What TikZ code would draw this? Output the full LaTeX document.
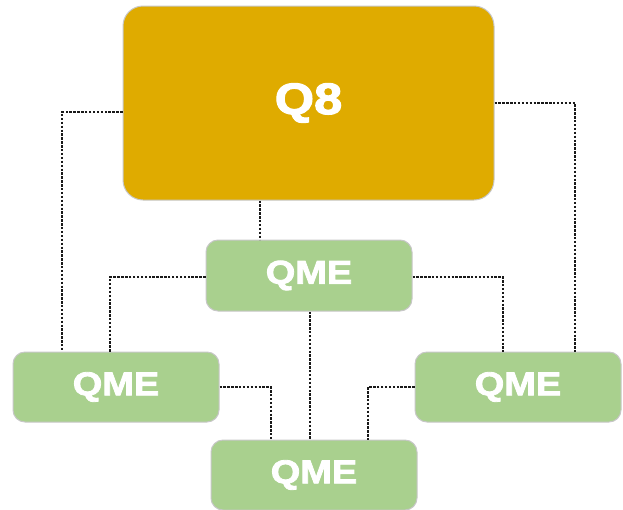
\documentclass[tikz,border=0pt]{standalone}
\usepackage{fontspec}
\setmainfont{Liberation Sans}
\newfontfamily\heavyfont[FakeStretch=1.15, FakeBold=2.5]{Liberation Sans Bold}
\begin{document}
\begin{tikzpicture}[x=1pt,y=-1pt,
  box/.style={rounded corners=12pt, draw=black!22, line width=1pt,
    text=white, font=\heavyfont\fontsize{33}{33}\selectfont,
    minimum width=206pt, minimum height=70pt, inner sep=0pt},
  hub/.style={box, fill=q8gold, rounded corners=20pt,
    minimum width=371pt, minimum height=194pt,
    font=\heavyfont\fontsize{44}{44}\selectfont},
  qme/.style={box, fill=qmegreen},
  conn/.style={draw=black!90, line width=2.2pt, dash pattern=on 2.4pt off 1.5pt}]
\definecolor{q8gold}{HTML}{DFAB00}
\definecolor{qmegreen}{HTML}{A9D08E}
\useasboundingbox (0,0) rectangle (623,509);

% blocks
\node[hub] (q8) at (308.5,103) {Q8};
\node[qme, minimum height=71pt] (top) at (309,275.5) {QME};
\node[qme] (left) at (116,387) {QME};
\node[qme] (right) at (518,387) {QME};
\node[qme] (bot) at (314,475) {QME};

% dotted links
\draw[conn] ([yshift=-9pt]q8.west) -| ([xshift=-54pt]left.north);
\draw[conn] (q8.east) -| ([xshift=57pt]right.north);
\draw[conn] ([xshift=-48.5pt]q8.south) -- ([xshift=-49pt]top.north);
\draw[conn] ([yshift=-1.5pt]top.west) -| ([xshift=-6pt]left.north);
\draw[conn] ([yshift=-1.5pt]top.east) -| ([xshift=-15pt]right.north);
\draw[conn] ([xshift=1pt]top.south) -- ([xshift=-4pt]bot.north);
\draw[conn] (left.east) -| ([xshift=-43pt]bot.north);
\draw[conn] (right.west) -| ([xshift=54pt]bot.north);
\end{tikzpicture}
\end{document}
